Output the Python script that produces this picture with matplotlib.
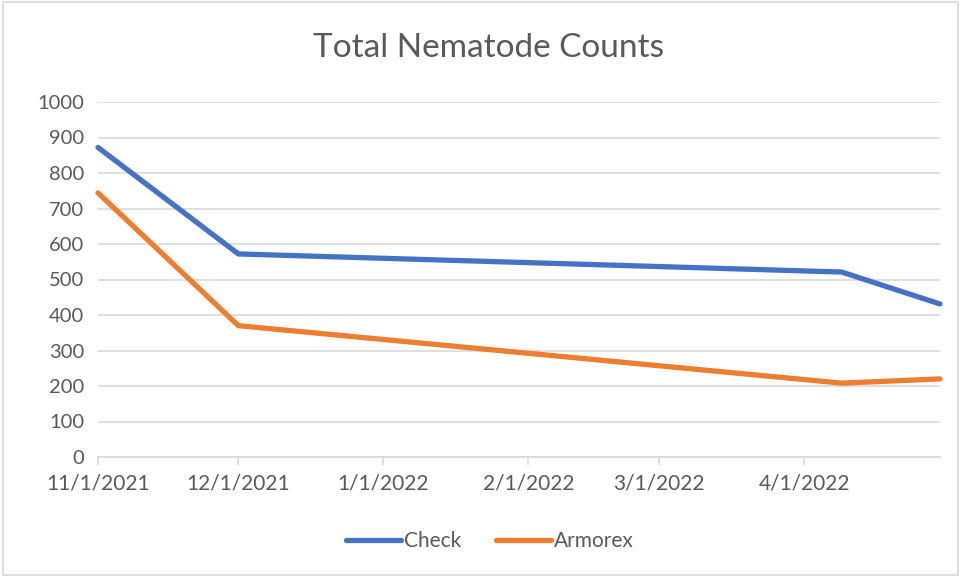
import matplotlib
matplotlib.use("Agg")
import matplotlib.pyplot as plt
from matplotlib.patches import Rectangle
import datetime as dt

# Data
dates = [dt.date(2021, 11, 1), dt.date(2021, 12, 1), dt.date(2022, 4, 9), dt.date(2022, 4, 30)]
check = [872, 572, 521, 431]
armorex = [744, 370, 208, 220]
tick_dates = [dt.date(2021, 11, 1), dt.date(2021, 12, 1), dt.date(2022, 1, 1),
              dt.date(2022, 2, 1), dt.date(2022, 3, 1), dt.date(2022, 4, 1)]
tick_labels = ['11/1/2021', '12/1/2021', '1/1/2022', '2/1/2022', '3/1/2022', '4/1/2022']

plt.rcParams['font.family'] = ['Lato', 'DejaVu Sans']
text_col = '#595959'
grid_col = '#D9D9D9'

fig = plt.figure(figsize=(9.62, 5.77), dpi=100)
ax = fig.add_axes([98 / 962, 1 - 457 / 577, (940 - 98) / 962, (457 - 102) / 577])

# chart border
fig.patches.append(Rectangle((0.003, 0.003), 0.993, 0.993, transform=fig.transFigure,
                             fill=False, edgecolor=grid_col, linewidth=1.2))

ax.plot(dates, check, color='#4472C4', linewidth=3.8, solid_capstyle='round',
        solid_joinstyle='round', label='Check', zorder=3, clip_on=False)
ax.plot(dates, armorex, color='#ED7D31', linewidth=3.8, solid_capstyle='round',
        solid_joinstyle='round', label='Armorex', zorder=3, clip_on=False)

ax.set_ylim(0, 1000)
ax.set_yticks(range(0, 1001, 100))
ax.set_xlim(dates[0], dates[-1])
ax.set_xticks(tick_dates)
ax.set_xticklabels(tick_labels)

ax.grid(axis='y', color=grid_col, linewidth=1.2)
ax.set_axisbelow(True)
for s in ['top', 'right', 'left']:
    ax.spines[s].set_visible(False)
ax.spines['bottom'].set_color(grid_col)
ax.spines['bottom'].set_linewidth(1.2)
ax.tick_params(axis='y', length=0, pad=10, labelsize=14.5, labelcolor=text_col)
ax.tick_params(axis='x', length=6, width=1.2, color=grid_col, pad=6,
               labelsize=15, labelcolor=text_col)

fig.text(489 / 962, 1 - 48 / 577, 'Total Nematode Counts', ha='center', va='center',
         fontsize=24, color=text_col)

fig.legend(loc='center', bbox_to_anchor=(490 / 962, 1 - 541 / 577), ncol=2,
           frameon=False, fontsize=15, labelcolor=text_col, handlelength=2.6,
           handletextpad=0.15, columnspacing=1.7)

fig.savefig('out.png', dpi=100)
